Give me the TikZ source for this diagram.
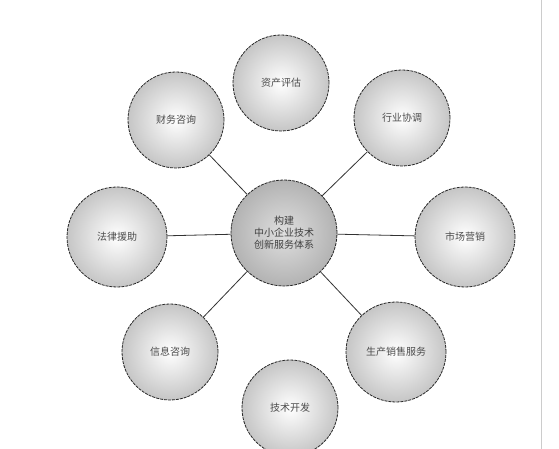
\documentclass[tikz,border=0pt]{standalone}
\usepackage{fontspec}
\setmainfont{Noto Sans CJK SC}
\begin{document}
\begin{tikzpicture}[x=1pt,y=-1pt,
  ball/.style={circle, draw=black!85, dashed, line width=0.8pt, dash pattern=on 3pt off 1pt,
    inner color=white, outer color=gray!45, minimum size=96pt, inner sep=0pt,
    font=\fontsize{10}{12}\selectfont, text=black!70, align=center},
  hub/.style={ball, inner color=gray!25, outer color=gray!60, minimum size=106pt, text=black!75},
  link/.style={draw=black!80, line width=0.8pt}]
\useasboundingbox (0,0) rectangle (559,449);
\fill[white] (0,0) rectangle (559,449);
\draw[gray!40, line width=1pt] (541,0) -- (541,449);
\node[hub]  (c)  at (284,233) {构建\\中小企业技术\\创新服务体系};
\node[ball] (t)  at (281,83)  {资产评估};
\node[ball] (ul) at (176,120) {财务咨询};
\node[ball] (ur) at (402,118) {行业协调};
\node[ball, minimum size=100pt] (l)  at (117,237) {法律援助};
\node[ball, minimum size=100pt] (r)  at (465,237) {市场营销};
\node[ball] (ll) at (170,352) {信息咨询};
\node[ball, minimum size=100pt] (lr) at (396,352) {生产销售服务};
\node[ball] (b)  at (290,408) {技术开发};
\foreach \n in {ul,ur,l,r,ll,lr} \path[link] (c) -- (\n);
\end{tikzpicture}
\end{document}
